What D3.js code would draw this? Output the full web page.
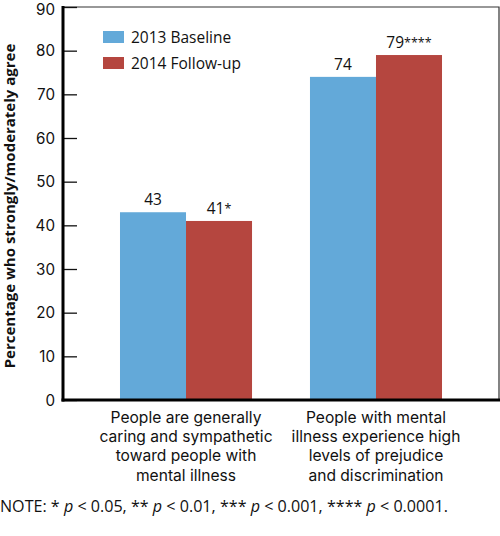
<!DOCTYPE html>
<html><head><meta charset="utf-8">
<script src="https://cdn.jsdelivr.net/npm/d3@7"></script>
<style>body{margin:0;background:#fff}svg{display:block}text{font-family:"Open Sans",sans-serif;fill:#111}</style>
</head><body>
<svg id="c" width="500" height="536"></svg>
<script>
const categories = [
  ["People are generally","caring and sympathetic","toward people with","mental illness"],
  ["People with mental","illness experience high","levels of prejudice","and discrimination"]
];
const seriesNames = ["2013 Baseline","2014 Follow-up"];
const baseline = [43, 74];
const followup = [41, 79];
const valueNums = [["43","74"],["41","79"]];
const valueStars = [["",""],["*","****"]];
const yTicks = [0,10,20,30,40,50,60,70,80,90];
const colors = ["#63a9d9","#b5463f"];

const svg = d3.select("#c");
const L = 63, R = 499, T = 7, B = 400;
const y = d3.scaleLinear().domain([0,90]).range([B,T]);
const x0 = d3.scaleBand().domain([0,1]).range([L,R]).paddingInner(0.305).paddingOuter(0.3);
const x1 = d3.scaleBand().domain([0,1]).range([0,x0.bandwidth()]);

// frame top/right
svg.append("path").attr("d",`M${L},${T}H${R}V${B}`).attr("fill","none").attr("stroke","#333").attr("stroke-width",1.2);

const series = [baseline, followup];
series.forEach((vals,s)=>{
  svg.selectAll(null).data(vals).enter().append("rect")
    .attr("x",(d,i)=>x0(i)+x1(s)).attr("width",x1.bandwidth())
    .attr("y",d=>y(d)).attr("height",d=>B-y(d)).attr("fill",colors[s]);
  const t = svg.selectAll(null).data(vals).enter().append("text")
    .attr("x",(d,i)=>x0(i)+x1(s)+x1.bandwidth()/2).attr("y",d=>y(d)-7)
    .attr("text-anchor","middle").attr("font-size",15.5);
  t.append("tspan").text((d,i)=>valueNums[s][i]);
  t.append("tspan").attr("font-size",12.5).attr("dy",-1).text((d,i)=>valueStars[s][i]);
});

// y axis
const ax = svg.append("g").attr("transform",`translate(${L},0)`)
  .call(d3.axisRight(y).tickValues(yTicks).tickSize(14).tickFormat(""));
ax.select(".domain").remove();
ax.selectAll("line").attr("stroke","#111").attr("stroke-width",1.3);
svg.selectAll(null).data(yTicks).enter().append("text")
  .attr("x",L-8).attr("y",d=>Math.max(y(d)+5.5, 14.8)).attr("text-anchor","end")
  .style("font-family","Inter, sans-serif").attr("font-size",15.2).text(d=>d);

svg.append("line").attr("x1",L).attr("x2",L).attr("y1",T-1).attr("y2",B+1.5).attr("stroke","#000").attr("stroke-width",3);
svg.append("line").attr("x1",L-1.5).attr("x2",R+1).attr("y1",B).attr("y2",B).attr("stroke","#000").attr("stroke-width",3);

// y title
svg.append("text").attr("transform",`translate(15,206) rotate(-90)`)
  .attr("text-anchor","middle").attr("font-size",15).attr("font-weight","bold")
  .text("Percentage who strongly/moderately agree");

// legend
seriesNames.forEach((n,i)=>{
  svg.append("rect").attr("x",103).attr("y",31+i*26).attr("width",21).attr("height",12).attr("fill",colors[i]);
  svg.append("text").attr("x",131).attr("y",37+i*26).attr("dy","0.36em").attr("font-size",15.5).text(n);
});

// category labels
categories.forEach((lines,i)=>{
  const t = svg.append("text").attr("text-anchor","middle").attr("font-size",15.6)
    .style("font-family","Inter, sans-serif");
  lines.forEach((ln,k)=>t.append("tspan").attr("x",x0(i)+x0.bandwidth()/2).attr("y",422.5+k*19.4).text(ln));
});

// note
const note = svg.append("text").attr("x",0).attr("y",512).attr("font-size",16.1);
const parts = [["NOTE: * ",0],["p",1],[" < 0.05, ** ",0],["p",1],[" < 0.01, *** ",0],["p",1],[" < 0.001, **** ",0],["p",1],[" < 0.0001.",0]];
parts.forEach(([t,it])=>note.append("tspan").attr("font-style",it?"italic":null).text(t));
</script>
</body></html>
